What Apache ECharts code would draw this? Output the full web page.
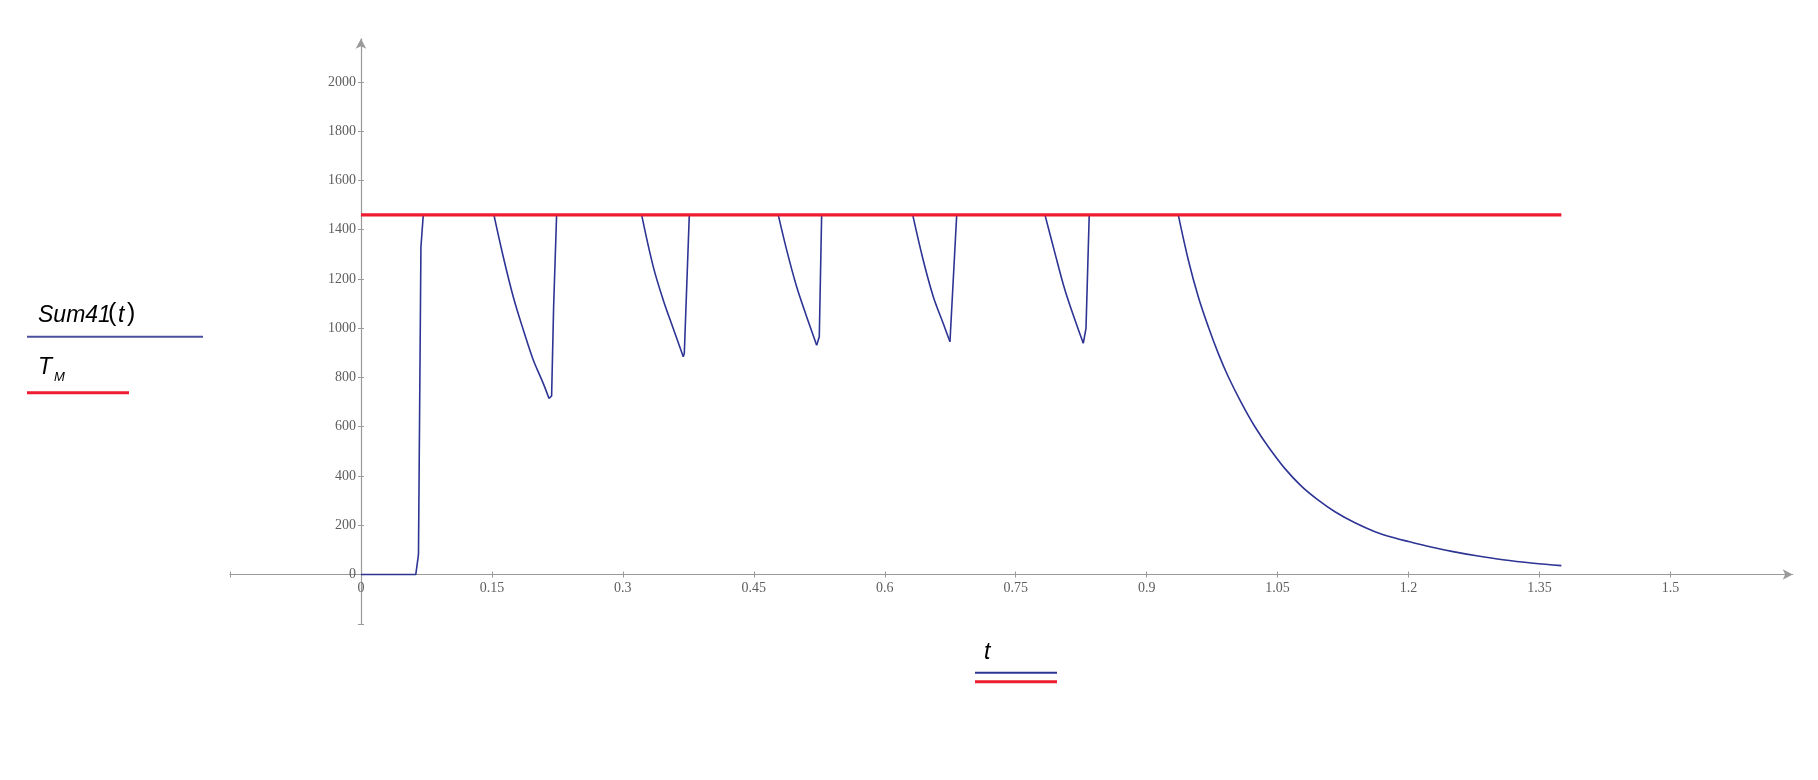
<!DOCTYPE html>
<html>
<head>
<meta charset="utf-8">
<script src="https://cdn.jsdelivr.net/npm/echarts@6/dist/echarts.min.js"></script>
<style>
html,body{margin:0;padding:0;background:#fff;}
#chart{width:1818px;height:780px;}
</style>
</head>
<body>
<div id="chart"></div>
<script>
// ---- data ----
const tValues = [
  0, 0.0628, 0.0659, 0.0687, 0.0714,
  0.1523, 0.163, 0.1745, 0.186, 0.1974, 0.2088, 0.2154, 0.2184, 0.2207, 0.2241,
  0.3215, 0.3348, 0.3463, 0.3577, 0.3692, 0.3704, 0.3761,
  0.478, 0.4876, 0.499, 0.5105, 0.522, 0.525, 0.5277,
  0.632, 0.644, 0.6556, 0.667, 0.6747, 0.6766, 0.6824,
  0.7835, 0.795, 0.8064, 0.8179, 0.8274, 0.8305, 0.8342,
  0.9362, 0.9477, 0.9591, 0.9706, 0.982, 0.9935, 1.0088, 1.024, 1.0393, 1.0584, 1.0775,
  1.0966, 1.1157, 1.1386, 1.1615, 1.1844, 1.2, 1.2245, 1.251, 1.278, 1.308, 1.343, 1.375
];
const sum41Values = [
  0, 0, 82, 1330, 1460,
  1460, 1290, 1127, 993, 871, 776, 715, 725, 1087, 1460,
  1460, 1250, 1114, 999, 884, 898, 1460,
  1460, 1318, 1169, 1047, 931, 965, 1460,
  1460, 1277, 1128, 1019, 945, 945, 1460,
  1460, 1304, 1155, 1033, 939, 999, 1460,
  1460, 1277, 1128, 1006, 898, 803, 695, 600, 519, 430, 358,
  302, 255, 210, 174, 148, 134, 113, 93, 76, 60, 46, 36
];
const TM = 1460;
const tmStart = 0;
const tmEnd = 1.375;

const xTickValues = [-0.15, 0, 0.15, 0.3, 0.45, 0.6, 0.75, 0.9, 1.05, 1.2, 1.35, 1.5];
const xLabelValues = [0, 0.15, 0.3, 0.45, 0.6, 0.75, 0.9, 1.05, 1.2, 1.35, 1.5];
const yTickValues = [-200, 0, 200, 400, 600, 800, 1000, 1200, 1400, 1600, 1800, 2000];
const yLabelValues = [0, 200, 400, 600, 800, 1000, 1200, 1400, 1600, 1800, 2000];

const xMin = -0.15, xMax = 1.64;
const yMin = -200, yMax = 2175;

// ---- chart ----
const chart = echarts.init(document.getElementById('chart'), null, {renderer: 'canvas'});
const W = 1818, H = 780;
const gridLeft = 230, gridRight = 25.3, gridTop = 38.8, gridBottom = 156.2;
const gridW = W - gridLeft - gridRight, gridH = H - gridTop - gridBottom;
// place axes at the zero of the other axis (offset inward from the grid edges)
const xAxisOffset = -((0 - yMin) / (yMax - yMin)) * gridH;
const yAxisOffset = -((0 - xMin) / (xMax - xMin)) * gridW;

const axisColor = '#9a9a9a';
const blueColor = '#2d3494';
const redColor = '#ee1c2e';
const labelStyle = {fontFamily: 'Liberation Serif', fontSize: 14, color: '#5e5e5e'};

const points = tValues.map((t, i) => [t, sum41Values[i]]);

// split into decaying runs (drawn smooth) and the rest (drawn straight)
const blueSeries = [];
let i = 0;
while (i < points.length - 1) {
  const startsDecay = k => points[k + 1][1] < points[k][1] && points[k][1] >= TM;
  const decreasing = startsDecay(i);
  let j = i + 1;
  if (decreasing) {
    while (j < points.length - 1 && points[j + 1][1] < points[j][1]) j++;
  } else {
    while (j < points.length - 1 && !startsDecay(j)) j++;
  }
  blueSeries.push({
    type: 'line', data: points.slice(i, j + 1),
    showSymbol: false, symbol: 'none',
    smooth: decreasing ? 0.35 : false,
    lineStyle: {color: blueColor, width: 1.6},
    z: 2
  });
  i = j;
}

function xAxisDef(main) {
  return {
    type: 'value', min: xMin, max: xMax, position: 'bottom', offset: xAxisOffset,
    axisLine: main ? {show: true, onZero: false, symbol: ['none', 'arrow'], symbolSize: [8, 10],
      lineStyle: {color: axisColor, width: 1.2}} : {show: false, onZero: false},
    axisTick: {show: true, inside: !main, length: 3, customValues: xTickValues, lineStyle: {color: axisColor}},
    axisLabel: main ? {show: true, customValues: xLabelValues, margin: 7, ...labelStyle,
      formatter: v => String(v)} : {show: false},
    splitLine: {show: false}
  };
}
function yAxisDef(main) {
  return {
    type: 'value', min: yMin, max: yMax, position: 'left', offset: yAxisOffset,
    axisLine: main ? {show: true, onZero: false, symbol: ['none', 'arrow'], symbolSize: [8, 10],
      lineStyle: {color: axisColor, width: 1.2}} : {show: false, onZero: false},
    axisTick: {show: true, inside: !main, length: 3, customValues: yTickValues, lineStyle: {color: axisColor}},
    axisLabel: main ? {show: true, customValues: yLabelValues, margin: 5, ...labelStyle,
      formatter: v => String(v)} : {show: false},
    splitLine: {show: false}
  };
}

const option = {
  animation: false,
  backgroundColor: '#ffffff',
  grid: {left: gridLeft, right: gridRight, top: gridTop, bottom: gridBottom, containLabel: false, outerBoundsMode: 'none'},
  xAxis: [xAxisDef(true), xAxisDef(false)],
  yAxis: [yAxisDef(true), yAxisDef(false)],
  series: blueSeries.concat([{
    name: 'TM', type: 'line', data: [[tmStart, TM], [tmEnd, TM]],
    showSymbol: false, symbol: 'none',
    lineStyle: {color: redColor, width: 3.2},
    z: 3
  }]),
  graphic: [
    {type: 'text', left: 38, top: 304, style: {text: 'Sum41', font: 'italic 23px "Liberation Sans"', fill: '#000'}},
    {type: 'text', left: 108, top: 302, style: {text: '(', font: '25px "Liberation Sans"', fill: '#000'}},
    {type: 'text', left: 118, top: 304, style: {text: 't', font: 'italic 23px "Liberation Sans"', fill: '#000'}},
    {type: 'text', left: 127, top: 302, style: {text: ')', font: '25px "Liberation Sans"', fill: '#000'}},
    {type: 'line', shape: {x1: 27, y1: 336.7, x2: 203, y2: 336.7}, style: {stroke: '#4a4f9f', lineWidth: 2}},
    {type: 'text', left: 38, top: 356, style: {text: 'T', font: 'italic 23px "Liberation Sans"', fill: '#000'}},
    {type: 'text', left: 54, top: 371, style: {text: 'M', font: 'italic 13px "Liberation Sans"', fill: '#000'}},
    {type: 'line', shape: {x1: 27, y1: 392.7, x2: 129, y2: 392.7}, style: {stroke: redColor, lineWidth: 3}},
    {type: 'text', left: 984, top: 641, style: {text: 't', font: 'italic 23px "Liberation Sans"', fill: '#000'}},
    {type: 'line', shape: {x1: 975, y1: 672.7, x2: 1057, y2: 672.7}, style: {stroke: blueColor, lineWidth: 2}},
    {type: 'line', shape: {x1: 975, y1: 681.7, x2: 1057, y2: 681.7}, style: {stroke: redColor, lineWidth: 3}}
  ]
};
chart.setOption(option);
</script>
</body>
</html>
